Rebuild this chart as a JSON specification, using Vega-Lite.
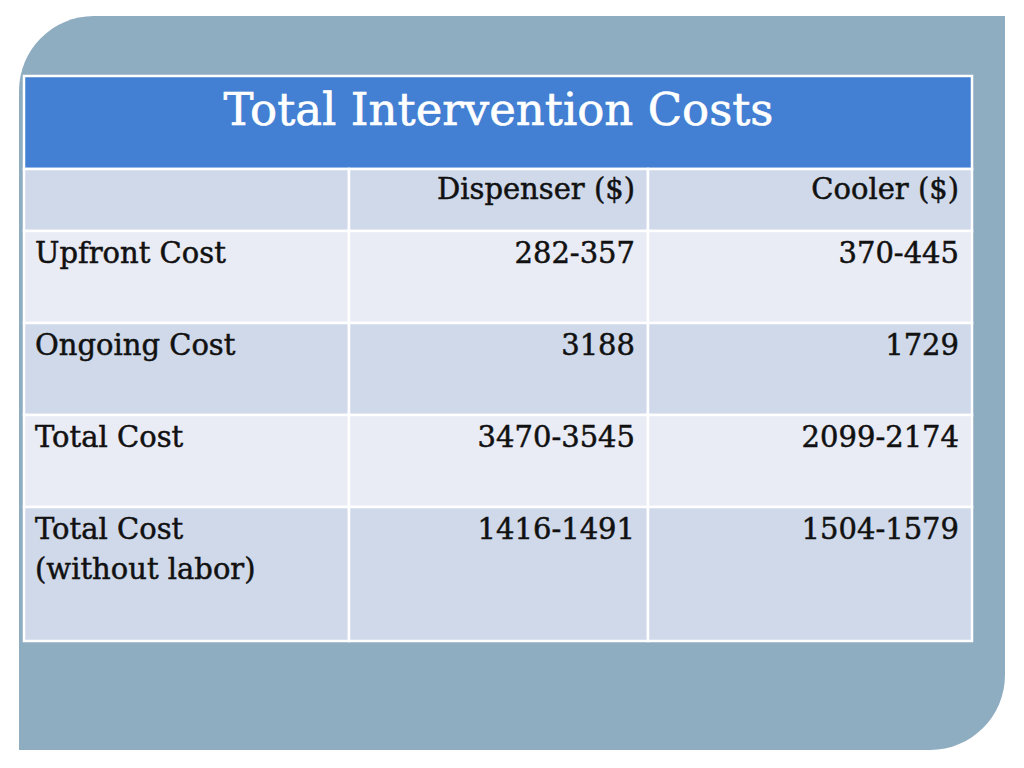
{
  "$schema": "https://vega.github.io/schema/vega-lite/v6.json",
  "width": 986,
  "height": 734,
  "autosize": {"type": "none"},
  "padding": {"left": 19, "top": 16, "right": 19, "bottom": 18},
  "background": "white",
  "config": {"view": {"stroke": null}, "font": "DejaVu Serif"},
  "datasets": {
    "cells": [
      {"r": 0, "rEnd": 1, "c": 0, "cEnd": 3, "text": ""},
      {"r": 1, "rEnd": 2, "c": 0, "cEnd": 1, "text": ""},
      {"r": 1, "rEnd": 2, "c": 1, "cEnd": 2, "text": "Dispenser ($)"},
      {"r": 1, "rEnd": 2, "c": 2, "cEnd": 3, "text": "Cooler ($)"},
      {"r": 2, "rEnd": 3, "c": 0, "cEnd": 1, "text": "Upfront Cost"},
      {"r": 2, "rEnd": 3, "c": 1, "cEnd": 2, "text": "282-357"},
      {"r": 2, "rEnd": 3, "c": 2, "cEnd": 3, "text": "370-445"},
      {"r": 3, "rEnd": 4, "c": 0, "cEnd": 1, "text": "Ongoing Cost"},
      {"r": 3, "rEnd": 4, "c": 1, "cEnd": 2, "text": "3188"},
      {"r": 3, "rEnd": 4, "c": 2, "cEnd": 3, "text": "1729"},
      {"r": 4, "rEnd": 5, "c": 0, "cEnd": 1, "text": "Total Cost"},
      {"r": 4, "rEnd": 5, "c": 1, "cEnd": 2, "text": "3470-3545"},
      {"r": 4, "rEnd": 5, "c": 2, "cEnd": 3, "text": "2099-2174"},
      {"r": 5, "rEnd": 6, "c": 0, "cEnd": 1, "text": "Total Cost\n(without labor)"},
      {"r": 5, "rEnd": 6, "c": 1, "cEnd": 2, "text": "1416-1491"},
      {"r": 5, "rEnd": 6, "c": 2, "cEnd": 3, "text": "1504-1579"}
    ]
  },
  "layer": [
    {
      "data": {"values": [{"shape": "panel"}]},
      "mark": {"type": "rect", "color": "#8FADC1", "cornerRadiusTopLeft": 75, "cornerRadiusBottomRight": 75},
      "encoding": {}
    },
    {
      "data": {"name": "cells"},
      "mark": {"type": "rect", "stroke": "white", "strokeWidth": 2.5},
      "encoding": {
        "x": {"field": "c", "type": "quantitative", "axis": null, "scale": {"domain": [0, 1, 1.5, 2, 3], "range": [5, 330, 479.5, 629, 953]}},
        "x2": {"field": "cEnd"},
        "y": {"field": "r", "type": "quantitative", "axis": null, "scale": {"domain": [0, 1, 2, 3, 4, 5, 6], "range": [60, 153, 215, 307, 399, 491, 625]}},
        "y2": {"field": "rEnd"},
        "color": {"field": "r", "type": "ordinal", "legend": null, "scale": {"domain": [0, 1, 2, 3, 4, 5], "range": ["#4380D3", "#CFD9EA", "#E9EBF5", "#CFD9EA", "#E9EBF5", "#CFD9EA"]}}
      }
    },
    {
      "data": {"values": [{"text": "Total Intervention Costs", "r": 0, "c": 1.5}]},
      "mark": {"type": "text", "color": "white", "stroke": "white", "strokeWidth": 0.6, "fontSize": 45, "align": "center", "baseline": "alphabetic", "dy": 49},
      "encoding": {
        "x": {"field": "c", "type": "quantitative"},
        "y": {"field": "r", "type": "quantitative"},
        "text": {"field": "text"}
      }
    },
    {
      "data": {"name": "cells"},
      "transform": [{"filter": "datum.r == 1 && datum.c > 0"}],
      "mark": {"type": "text", "color": "#111111", "stroke": "#111111", "strokeWidth": 0.5, "fontSize": 29, "align": "right", "baseline": "alphabetic", "dx": -13, "dy": 30},
      "encoding": {
        "x": {"field": "cEnd", "type": "quantitative"},
        "y": {"field": "r", "type": "quantitative"},
        "text": {"field": "text"}
      }
    },
    {
      "data": {"name": "cells"},
      "transform": [{"filter": "datum.r >= 2 && datum.c == 0"}],
      "mark": {"type": "text", "color": "#111111", "stroke": "#111111", "strokeWidth": 0.5, "fontSize": 29, "align": "left", "baseline": "alphabetic", "dx": 11, "dy": 32, "lineBreak": "\n", "lineHeight": 40},
      "encoding": {
        "x": {"field": "c", "type": "quantitative"},
        "y": {"field": "r", "type": "quantitative"},
        "text": {"field": "text"}
      }
    },
    {
      "data": {"name": "cells"},
      "transform": [{"filter": "datum.r >= 2 && datum.c > 0"}],
      "mark": {"type": "text", "color": "#111111", "stroke": "#111111", "strokeWidth": 0.5, "fontSize": 29, "align": "right", "baseline": "alphabetic", "dx": -13, "dy": 32},
      "encoding": {
        "x": {"field": "cEnd", "type": "quantitative"},
        "y": {"field": "r", "type": "quantitative"},
        "text": {"field": "text"}
      }
    }
  ]
}
